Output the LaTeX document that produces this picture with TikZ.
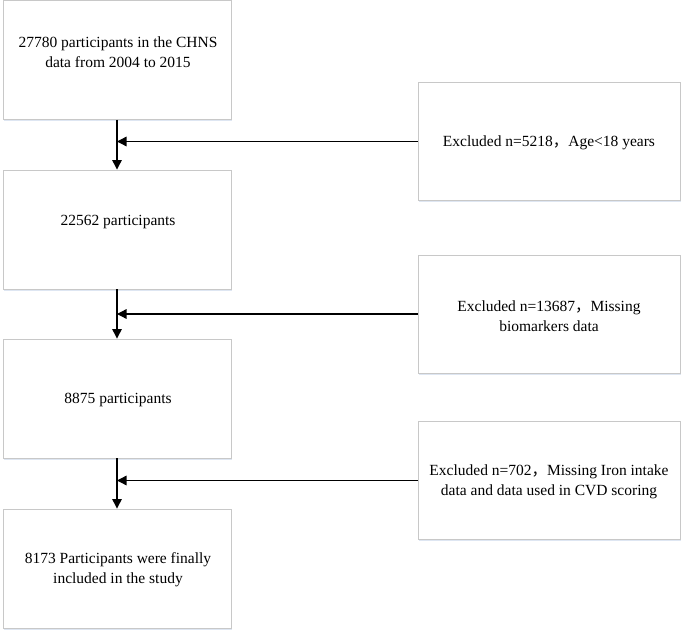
\documentclass[tikz,border=0pt]{standalone}
\usepackage{fontspec}
\setmainfont{Liberation Serif}
\newfontfamily\cjk{Noto Sans CJK SC}
\usetikzlibrary{arrows.meta,shadows}
\definecolor{boxline}{RGB}{200,200,200}
\definecolor{shadowc}{RGB}{222,230,242}
\begin{document}
\begin{tikzpicture}[x=1pt,y=-1pt,
  boxnode/.style={draw=boxline, line width=0.9pt, fill=white, rectangle, inner sep=0pt,
    drop shadow={shadow xshift=1pt, shadow yshift=-1.8pt, fill=shadowc, opacity=1}},
  leftbox/.style={boxnode, minimum width=228pt, minimum height=119pt},
  rightbox/.style={boxnode, minimum width=262pt, minimum height=118pt},
  txt/.style={align=center, font=\fontsize{15.5pt}{20pt}\selectfont, inner sep=0pt},
  arr/.style={line width=1.3pt, -{Triangle[length=9.5pt,width=9.5pt]}}]
\useasboundingbox (0,0) rectangle (685,636);
% left boxes
\node[leftbox] (b1) at (117,60) {};
\node[leftbox] (b2) at (117,229.5) {};
\node[leftbox] (b3) at (117,398.5) {};
\node[leftbox] (b4) at (117,568.5) {};
% right boxes
\node[rightbox] (r1) at (549,141.5) {};
\node[rightbox] (r2) at (549,314) {};
\node[rightbox] (r3) at (549,480.5) {};
% texts
\node[txt] (t1) at (118,52) {27780 participants in the CHNS\\data from 2004 to 2015};
\node[txt] (t2) at (118,222) {22562 participants};
\node[txt] (t3) at (118,400) {8875 participants};
\node[txt] (t4) at (118,570) {8173 Participants were finally\\included in the study};
\node[txt] (u1) at (549,143) {Excluded n=5218{\cjk ，}Age<18 years};
\node[txt] (u2) at (549,316.5) {Excluded n=13687{\cjk ，}Missing\\biomarkers data};
\node[txt] (u3) at (549,482) {Excluded n=702{\cjk ，}Missing Iron intake\\data and data used in CVD scoring};
% vertical arrows
\draw[arr] (b1.south) -- (b2.north);
\draw[arr] (b2.south) -- (b3.north);
\draw[arr] (b3.south) -- (b4.north);
% horizontal arrows
\draw[arr] (r1.west) -- (r1.west -| b1.south);
\draw[arr] (r2.west) -- (r2.west -| b2.south);
\draw[arr] (r3.west) -- (r3.west -| b3.south);
\end{tikzpicture}
\end{document}
